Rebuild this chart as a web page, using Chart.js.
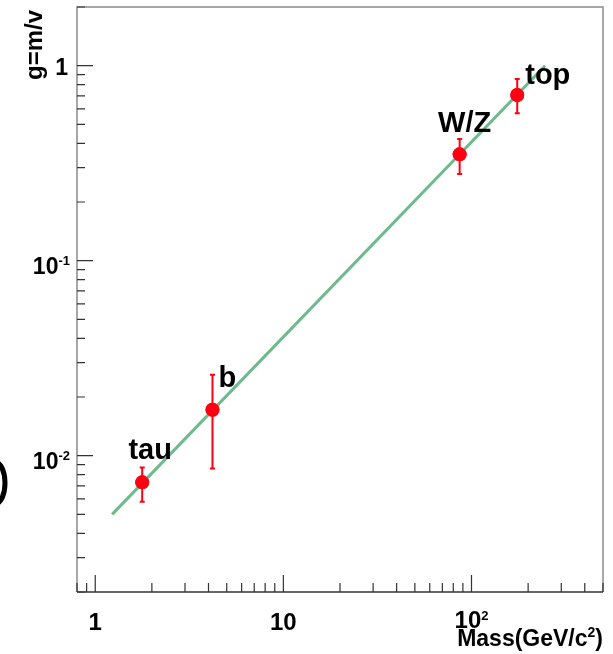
<!DOCTYPE html>
<html>
<head>
<meta charset="utf-8">
<script src="https://cdn.jsdelivr.net/npm/chart.js@4.4.0/dist/chart.umd.min.js"></script>
<style>
  html, body { margin: 0; padding: 0; background: #ffffff; }
  #wrap { width: 613px; height: 654px; position: relative; }
</style>
</head>
<body>
<div id="wrap"><canvas id="c" width="613" height="654"></canvas></div>
<script>
// ---- data ----
const categories = ['tau', 'b', 'W/Z', 'top'];
const massValues = [1.777, 4.2, 86.5, 175];
const gValues = [0.0073, 0.0172, 0.351, 0.707];
const gErrLow = [0.0058, 0.0086, 0.278, 0.570];
const gErrHigh = [0.0087, 0.026, 0.421, 0.855];
const fitMass = [1.23, 246];
const fitG = [0.0050, 1.0];
const xTickValues = [1, 10, 100];
const xTickLabels = ['1', '10', '10^{2}'];
const yTickValues = [0.01, 0.1, 1];
const yTickLabels = ['10^{-2}', '10^{-1}', '1'];
const xTitle = 'Mass(GeV/c^{2})';
const yTitle = 'g=m/v';

const FONT = '"Liberation Sans", Arial, Helvetica, sans-serif';
const RED = '#ff0013';
const GREEN = '#6dba8c';

// label placement style (pixel offsets from the marker)
const labelStyle = [
  { align: 'center', dx: 8, dy: -23 },
  { align: 'left', dx: 6, dy: -23 },
  { align: 'center', dx: 5, dy: -22 },
  { align: 'left', dx: 8, dy: -11 }
];

// split "a^{b}c" into runs
function parseRuns(t) {
  const runs = [];
  const re = /\^\{([^}]*)\}/g;
  let last = 0, m;
  while ((m = re.exec(t))) {
    if (m.index > last) runs.push({ s: t.slice(last, m.index), sup: false });
    runs.push({ s: m[1], sup: true });
    last = re.lastIndex;
  }
  if (last < t.length) runs.push({ s: t.slice(last), sup: false });
  return runs;
}
function drawRich(ctx, text, x, y, align, size, supSize, rise) {
  const runs = parseRuns(text);
  let total = 0;
  runs.forEach(r => {
    ctx.font = 'bold ' + (r.sup ? supSize : size) + 'px ' + FONT;
    r.w = ctx.measureText(r.s).width;
    total += r.w;
  });
  let cx = align === 'right' ? x - total : align === 'center' ? x - total / 2 : x;
  ctx.textAlign = 'left';
  ctx.textBaseline = 'alphabetic';
  runs.forEach(r => {
    ctx.font = 'bold ' + (r.sup ? supSize : size) + 'px ' + FONT;
    ctx.fillText(r.s, cx, r.sup ? y - rise : y);
    cx += r.w;
  });
}

const framePlugin = {
  id: 'frame',
  afterDatasetsDraw(chart) {
    const ctx = chart.ctx;
    const xs = chart.scales.x, ys = chart.scales.y;
    const a = chart.chartArea;
    ctx.save();
    // error bars
    ctx.strokeStyle = RED;
    ctx.lineWidth = 2;
    for (let i = 0; i < massValues.length; i++) {
      const px = xs.getPixelForValue(massValues[i]);
      const pLo = ys.getPixelForValue(gErrLow[i]);
      const pHi = ys.getPixelForValue(gErrHigh[i]);
      ctx.beginPath();
      ctx.moveTo(px, pLo); ctx.lineTo(px, pHi);
      ctx.moveTo(px - 2.5, pLo); ctx.lineTo(px + 2.5, pLo);
      ctx.moveTo(px - 2.5, pHi); ctx.lineTo(px + 2.5, pHi);
      ctx.stroke();
    }
    ctx.fillStyle = RED;
    for (let i = 0; i < massValues.length; i++) {
      const px = xs.getPixelForValue(massValues[i]);
      const py = ys.getPixelForValue(gValues[i]);
      ctx.beginPath(); ctx.arc(px, py, 7, 0, Math.PI * 2); ctx.fill();
    }
    // point labels
    ctx.fillStyle = '#000';
    ctx.font = 'bold 29px ' + FONT;
    ctx.textBaseline = 'alphabetic';
    for (let i = 0; i < categories.length; i++) {
      const px = xs.getPixelForValue(massValues[i]);
      const py = ys.getPixelForValue(gValues[i]);
      const s = labelStyle[i];
      ctx.textAlign = s.align;
      ctx.fillText(categories[i], px + s.dx, py + s.dy);
    }
    // frame
    ctx.lineWidth = 1.5;
    ctx.strokeStyle = '#8a8a8a';
    ctx.beginPath();
    ctx.moveTo(a.left, a.bottom); ctx.lineTo(a.left, a.top); ctx.lineTo(a.right, a.top); ctx.lineTo(a.right, a.bottom);
    ctx.stroke();
    ctx.strokeStyle = '#333';
    ctx.beginPath();
    ctx.moveTo(a.left, a.bottom); ctx.lineTo(a.right, a.bottom);
    ctx.stroke();
    // tick marks (inward)
    ctx.lineWidth = 1.2;
    ctx.beginPath();
    for (let e = -4; e <= 4; e++) {
      for (let k = 1; k <= 9; k++) {
        const v = k * Math.pow(10, e);
        if (v >= xs.min && v <= xs.max) {
          const p = xs.getPixelForValue(v);
          const len = k === 1 ? 17 : 9;
          ctx.moveTo(p, a.bottom); ctx.lineTo(p, a.bottom - len);
        }
        if (v >= ys.min && v <= ys.max) {
          const p = ys.getPixelForValue(v);
          const len = k === 1 ? 16 : 8;
          ctx.moveTo(a.left, p); ctx.lineTo(a.left + len, p);
        }
      }
    }
    ctx.stroke();
    // tick labels
    ctx.fillStyle = '#000';
    xTickValues.forEach((v, i) => {
      const p = xs.getPixelForValue(v);
      const sup = xTickLabels[i].indexOf('^') >= 0;
      drawRich(ctx, xTickLabels[i], p, sup ? 628 : 630, 'center', 24, 13, 8);
    });
    yTickValues.forEach((v, i) => {
      const p = ys.getPixelForValue(v);
      const sup = yTickLabels[i].indexOf('^') >= 0;
      drawRich(ctx, yTickLabels[i], sup ? a.left - 7 : a.left - 9, p + (sup ? 13 : 9.5), 'right', 23, 13, 9);
    });
    // axis titles
    drawRich(ctx, xTitle, a.right, 646, 'right', 23, 14, 9);
    ctx.save();
    ctx.translate(42, 10);
    ctx.rotate(-Math.PI / 2);
    ctx.font = 'bold 24px ' + FONT;
    ctx.textAlign = 'right';
    ctx.textBaseline = 'alphabetic';
    ctx.fillText(yTitle, 0, 0);
    ctx.restore();
    // partial glyph at left edge
    ctx.lineWidth = 5;
    ctx.strokeStyle = '#000';
    ctx.beginPath();
    ctx.ellipse(-5, 483, 10, 21, 0, -Math.PI / 2, Math.PI / 2);
    ctx.stroke();
    ctx.restore();
  }
};

new Chart(document.getElementById('c'), {
  type: 'scatter',
  data: {
    datasets: [
      {
        label: 'fit',
        data: fitMass.map((m, i) => ({ x: m, y: fitG[i] })),
        showLine: true,
        borderColor: GREEN,
        borderWidth: 3,
        pointRadius: 0,
        fill: false
      },
      {
        label: 'data',
        data: massValues.map((m, i) => ({ x: m, y: gValues[i] })),
        backgroundColor: RED,
        borderColor: RED,
        pointRadius: 7,
        borderWidth: 0
      }
    ]
  },
  options: {
    responsive: false,
    animation: false,
    devicePixelRatio: 1,
    layout: { padding: { left: 0, right: 10, top: 7, bottom: 0 } },
    plugins: { legend: { display: false }, tooltip: { enabled: false } },
    scales: {
      x: {
        type: 'logarithmic',
        min: 0.8, max: 500,
        grid: { display: false, drawTicks: false },
        border: { display: false },
        afterBuildTicks: (s) => { s.ticks = xTickValues.map(v => ({ value: v })); },
        afterFit: (s) => { s.height = 62; },
        ticks: { display: false, autoSkip: false }
      },
      y: {
        type: 'logarithmic',
        min: 0.002, max: 2,
        grid: { display: false, drawTicks: false },
        border: { display: false },
        afterBuildTicks: (s) => { s.ticks = yTickValues.map(v => ({ value: v })); },
        afterFit: (s) => { s.width = 77; },
        ticks: { display: false, autoSkip: false }
      }
    }
  },
  plugins: [framePlugin]
});
</script>
</body>
</html>
